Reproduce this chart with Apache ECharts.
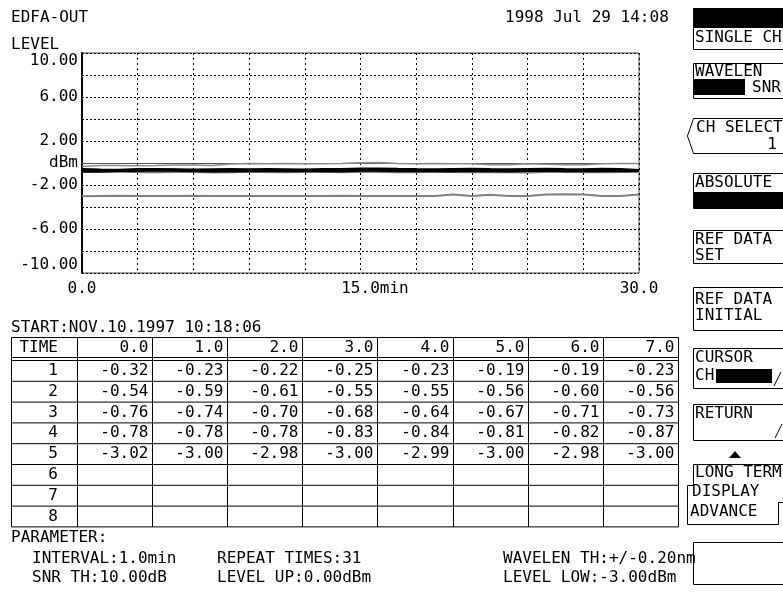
<!DOCTYPE html>
<html>
<head>
<meta charset="utf-8">
<script src="https://cdn.jsdelivr.net/npm/echarts@6/dist/echarts.min.js"></script>
<style>
html, body { margin: 0; padding: 0; background: #fff; }
#main { width: 783px; height: 592px; }
</style>
</head>
<body>
<div id="main"></div>
<script>
// time axis (min) and channel levels (dBm), one point per minute
var times = [0, 1, 2, 3, 4, 5, 6, 7, 8, 9, 10, 11, 12, 13, 14, 15,
    16, 17, 18, 19, 20, 21, 22, 23, 24, 25, 26, 27, 28, 29, 30];
var ch1 = [-0.32, -0.23, -0.22, -0.25, -0.23, -0.19, -0.19, -0.23, -0.08, -0.05, -0.06, -0.05, -0.07, -0.06, -0.05, 0.03,
    0.04, -0.05, -0.06, -0.05, -0.07, -0.06, -0.15, -0.16, -0.06, -0.12, -0.16, -0.15, -0.06, -0.05, -0.05];
var ch2 = [-0.54, -0.59, -0.61, -0.55, -0.55, -0.56, -0.60, -0.56, -0.55, -0.57, -0.54, -0.56, -0.58, -0.55, -0.54, -0.50,
    -0.49, -0.53, -0.55, -0.56, -0.54, -0.52, -0.55, -0.57, -0.54, -0.53, -0.55, -0.56, -0.52, -0.55, -0.63];
var ch3 = [-0.76, -0.74, -0.70, -0.68, -0.64, -0.67, -0.71, -0.73, -0.72, -0.70, -0.69, -0.71, -0.68, -0.70, -0.72, -0.66,
    -0.65, -0.70, -0.69, -0.71, -0.73, -0.68, -0.70, -0.72, -0.69, -0.66, -0.70, -0.71, -0.68, -0.70, -0.69];
var ch4 = [-0.78, -0.78, -0.78, -0.83, -0.84, -0.81, -0.82, -0.87, -0.83, -0.80, -0.82, -0.84, -0.81, -0.79, -0.83, -0.80,
    -0.82, -0.85, -0.83, -0.80, -0.82, -0.84, -0.81, -0.83, -0.86, -0.82, -0.80, -0.83, -0.85, -0.82, -0.81];
var ch5 = [-3.02, -3.00, -2.98, -3.00, -2.99, -3.00, -2.98, -3.00, -3.00, -2.99, -3.00, -3.01, -2.99, -3.00, -2.98, -3.00,
    -3.00, -2.99, -3.01, -3.00, -2.86, -3.00, -2.88, -3.00, -2.99, -2.86, -2.85, -2.87, -3.00, -2.99, -2.86];
var channels = [ch1, ch2, ch3, ch4, ch5];

var yTickLabels = { '10': '10.00', '6': '6.00', '2': '2.00', '0': 'dBm', '-2': '-2.00', '-6': '-6.00', '-10': '-10.00' };
var xTickLabels = { '0': '0.0', '15': '   15.0min', '30': '30.0' };

// table: time columns shown, channel rows
var tableCols = ['0.0', '1.0', '2.0', '3.0', '4.0', '5.0', '6.0', '7.0'];
var tableRows = ['1', '2', '3', '4', '5', '6', '7', '8'];

var FONT = '16px "DejaVu Sans Mono", monospace';

function txt(s, x, y, align) {
    return {
        type: 'text', silent: true,
        style: { text: s, x: x, y: y, font: FONT, fill: '#000', align: align || 'left', verticalAlign: 'middle' }
    };
}
function ln(x1, y1, x2, y2, w, c) {
    return {
        type: 'line', silent: true,
        shape: { x1: x1, y1: y1, x2: x2, y2: y2 },
        style: { stroke: c || '#000', lineWidth: w || 1 }
    };
}
function box(x, y, w, h, fill) {
    return {
        type: 'rect', silent: true,
        shape: { x: x, y: y, width: w, height: h },
        style: fill ? { fill: fill } : { fill: 'none', stroke: '#000', lineWidth: 1 }
    };
}
function poly(points) {
    return {
        type: 'polyline', silent: true,
        shape: { points: points },
        style: { fill: 'none', stroke: '#000', lineWidth: 1 }
    };
}

var g = [];
// header texts
g.push(txt('EDFA-OUT', 11, 18));
g.push(txt('LEVEL', 11, 45));
g.push(txt('1998 Jul 29 14:08', 505, 18));

// table
var colX = [11.5, 77.5, 152.5, 227.5, 302.5, 377.5, 453.5, 528.5, 603.5, 678.5];
var tTop = 337.5, hBot = 357.5, rTop = 360.5, rowH = 20.8;
var tBot = rTop + rowH * tableRows.length;
g.push(txt('START:NOV.10.1997 10:18:06', 11, 328));
g.push(ln(colX[0], tTop, colX[9], tTop));
g.push(ln(colX[0], hBot, colX[9], hBot));
g.push(ln(colX[0], rTop, colX[9], rTop));
for (var i = 0; i < colX.length; i++) g.push(ln(colX[i], tTop, colX[i], tBot));
for (var r = 1; r <= tableRows.length; r++) g.push(ln(colX[0], rTop + rowH * r, colX[9], rTop + rowH * r));
g.push(txt('TIME', 58, 348, 'right'));
tableCols.forEach(function (c, j) { g.push(txt(c, colX[j + 2] - 4, 348, 'right')); });
tableRows.forEach(function (name, r) {
    var cy = rTop + rowH * r + rowH / 2;
    g.push(txt(name, 58, cy, 'right'));
    var ch = channels[r];
    if (!ch) return;
    for (var j = 0; j < tableCols.length; j++) {
        g.push(txt(ch[j].toFixed(2), colX[j + 2] - 4, cy, 'right'));
    }
});

// parameters
g.push(txt('PARAMETER:', 11, 538));
g.push(txt('INTERVAL:1.0min', 32, 559));
g.push(txt('REPEAT TIMES:31', 217, 559));
g.push(txt('WAVELEN TH:+/-0.20nm', 503, 559));
g.push(txt('SNR TH:10.00dB', 32, 578));
g.push(txt('LEVEL UP:0.00dBm', 217, 578));
g.push(txt('LEVEL LOW:-3.00dBm', 503, 578));

// soft keys
var kx = 693.5, kw = 100;
g.push(box(693, 8, 95, 20, '#000'));
g.push(box(kx, 8.5, kw, 41));
g.push(txt('SINGLE CH', 695, 38));

g.push(box(kx, 63.5, kw, 35));
g.push(txt('WAVELEN', 695, 72));
g.push(box(693, 79, 52, 16, '#000'));
g.push(txt('SNR', 781, 88, 'right'));

g.push(poly([[795, 118.5], [693.5, 118.5], [687.5, 136], [693.5, 153.5], [795, 153.5]]));
g.push(txt('CH SELECT', 696, 128));
g.push(txt('1', 777, 145, 'right'));

g.push(box(693, 192, 95, 16, '#000'));
g.push(box(kx, 173.5, kw, 35));
g.push(txt('ABSOLUTE', 695, 183));

g.push(box(kx, 230.5, kw, 33));
g.push(txt('REF DATA', 695, 240));
g.push(txt('SET', 695, 256));

g.push(box(kx, 287.5, kw, 43));
g.push(txt('REF DATA', 695, 300));
g.push(txt('INITIAL', 695, 316));

g.push(box(kx, 348.5, kw, 40));
g.push(txt('CURSOR', 695, 358));
g.push(txt('CH', 695, 376));
g.push(box(716, 369, 56, 14, '#000'));
g.push(ln(774, 386, 781, 372));

g.push(box(kx, 404.5, kw, 36));
g.push(txt('RETURN', 695, 414));
g.push(ln(775, 438, 782, 424));

g.push({
    type: 'polygon', silent: true,
    shape: { points: [[729, 458], [741, 458], [735, 451]] },
    style: { fill: '#000' }
});

// LONG TERM / DISPLAY key with ADVANCE tab
g.push(poly([[795, 464.5], [693.5, 464.5], [693.5, 485.5]]));
g.push(poly([[693.5, 485.5], [687.5, 485.5], [687.5, 524.5], [778.5, 524.5], [778.5, 502.5], [795, 502.5]]));
g.push(txt('LONG TERM', 695, 473));
g.push(txt('DISPLAY', 692, 492));
g.push(txt('ADVANCE', 690, 512));

g.push(box(kx, 542.5, kw, 42));

var chart = echarts.init(document.getElementById('main'));
var lineStyles = [
    { color: '#8a8a8a', width: 1.5 },
    { color: '#000', width: 2 },
    { color: '#000', width: 3 },
    { color: '#7a7a7a', width: 2 },
    { color: '#808080', width: 2 }
];
var option = {
    backgroundColor: '#fff',
    animation: false,
    grid: { left: 82, top: 53, width: 557, height: 220, show: true, borderColor: '#444', borderWidth: 1 },
    xAxis: {
        type: 'value', min: 0, max: 30, interval: 3,
        axisLine: { lineStyle: { color: '#555', width: 1 } },
        axisTick: { show: false },
        splitLine: { show: true, lineStyle: { color: '#000', width: 1, type: [2, 3] } },
        axisLabel: {
            margin: 8, color: '#000', fontFamily: 'DejaVu Sans Mono', fontSize: 16,
            formatter: function (v) { return xTickLabels[String(v)] || ''; }
        }
    },
    yAxis: {
        type: 'value', min: -10, max: 10, interval: 2,
        axisLine: { show: true, lineStyle: { color: '#000', width: 2 } },
        axisTick: { show: false },
        splitLine: { show: true, lineStyle: { color: '#000', width: 1, type: [2, 2] } },
        axisLabel: {
            margin: 4, color: '#000', fontFamily: 'DejaVu Sans Mono', fontSize: 16,
            verticalAlignMaxLabel: 'top', verticalAlignMinLabel: 'bottom',
            formatter: function (v) { return yTickLabels[String(v)] || ''; }
        }
    },
    series: channels.map(function (ch, k) {
        return {
            type: 'line', name: 'CH' + (k + 1), symbol: 'none', z: 3 + (k === 2 ? 1 : 0),
            lineStyle: lineStyles[k],
            data: times.map(function (t, i) { return [t, ch[i]]; })
        };
    }),
    graphic: g
};
chart.setOption(option);
</script>
</body>
</html>
